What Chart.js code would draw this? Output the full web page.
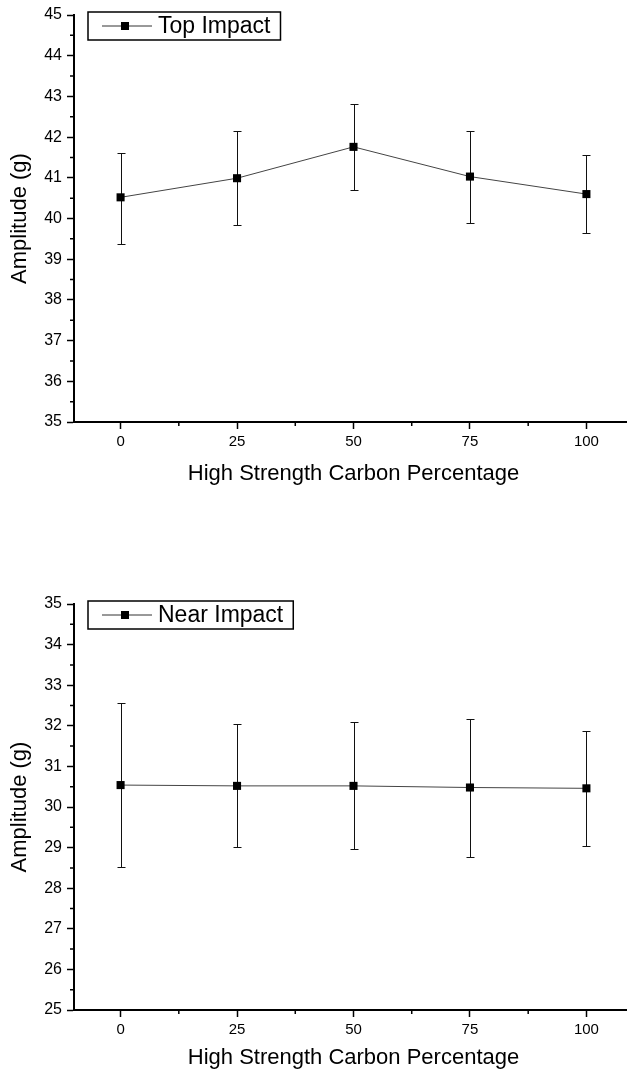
<!DOCTYPE html>
<html>
<head>
<meta charset="utf-8">
<script src="https://cdn.jsdelivr.net/npm/chart.js@4.4.0/dist/chart.umd.min.js"></script>
<style>
  html, body { margin: 0; padding: 0; background: #fff; overflow: hidden; width: 627px; height: 1074px; }
  canvas { position: absolute; left: 0; }
  #topChart { top: 0; }
  #nearChart { top: 589px; }
</style>
</head>
<body>
<canvas id="topChart" width="640" height="487"></canvas>
<canvas id="nearChart" width="640" height="482"></canvas>
<script>
// Values
const percent = [0, 25, 50, 75, 100];
const xTicks = [0, 25, 50, 75, 100];
const xMinor = [12.5, 37.5, 62.5, 87.5];

const topMean = [40.52, 40.99, 41.76, 41.03, 40.6];
const topUpper = [41.62, 42.15, 42.81, 42.16, 41.55];
const topLower = [39.37, 39.84, 40.69, 39.88, 39.65];

const nearMean = [30.54, 30.52, 30.52, 30.48, 30.46];
const nearUpper = [32.57, 32.04, 32.09, 32.16, 31.87];
const nearLower = [28.53, 29.02, 28.96, 28.78, 29.04];

const FONT = "'Liberation Sans', Arial, sans-serif";

// Error bars, drawn under the line and markers
function errorBars(upper, lower) {
  return {
    id: "errorBars",
    beforeDatasetsDraw(chart) {
      const ctx = chart.ctx;
      const x = chart.scales.x;
      const y = chart.scales.y;
      ctx.save();
      ctx.strokeStyle = "#111";
      ctx.lineWidth = 1;
      upper.forEach((hi, i) => {
        const px = Math.round(x.getPixelForValue(percent[i])) + 0.5;
        const top = Math.round(y.getPixelForValue(hi)) + 0.5;
        const bottom = Math.round(y.getPixelForValue(lower[i])) + 0.5;
        ctx.beginPath();
        ctx.moveTo(px, top);
        ctx.lineTo(px, bottom);
        ctx.moveTo(px - 4, top);
        ctx.lineTo(px + 4, top);
        ctx.moveTo(px - 4, bottom);
        ctx.lineTo(px + 4, bottom);
        ctx.stroke();
      });
      ctx.restore();
    },
  };
}

// Minor ticks between the labelled ones
const minorTicks = {
  id: "minorTicks",
  afterDraw(chart) {
    const { ctx, chartArea } = chart;
    const x = chart.scales.x;
    const y = chart.scales.y;
    ctx.save();
    ctx.strokeStyle = "#000";
    ctx.lineWidth = 1.5;
    ctx.beginPath();
    xMinor.forEach((v) => {
      const px = x.getPixelForValue(v);
      ctx.moveTo(px, chartArea.bottom);
      ctx.lineTo(px, chartArea.bottom + 4);
    });
    for (let v = y.min + 0.5; v < y.max; v += 1) {
      const py = y.getPixelForValue(v);
      ctx.moveTo(chartArea.left, py);
      ctx.lineTo(chartArea.left - 4, py);
    }
    ctx.stroke();
    ctx.restore();
  },
};

// Framed legend inside the plot, top left
const legendBox = {
  id: "legendBox",
  afterDraw(chart) {
    const { ctx, chartArea } = chart;
    const label = chart.data.datasets[0].label;
    const left = chartArea.left + 14;
    const top = chartArea.top - 3;
    const h = 28;
    const midY = top + h / 2;
    ctx.save();
    ctx.font = "23px " + FONT;
    const textX = left + 70;
    const w = textX - left + ctx.measureText(label).width + 10;
    ctx.strokeStyle = "#000";
    ctx.lineWidth = 1.5;
    ctx.strokeRect(left, top, w, h);
    ctx.lineWidth = 1;
    ctx.strokeStyle = "#333";
    ctx.beginPath();
    ctx.moveTo(left + 14, midY);
    ctx.lineTo(left + 64, midY);
    ctx.stroke();
    ctx.fillStyle = "#000";
    ctx.fillRect(left + 33, midY - 4, 8, 8);
    ctx.textBaseline = "middle";
    ctx.fillText(label, textX, midY + 1);
    ctx.restore();
  },
};

function makeChart(id, label, mean, upper, lower, yMin, yMax, xAxisHeight) {
  const ctx = document.getElementById(id).getContext("2d");
  return new Chart(ctx, {
    type: "line",
    data: {
      datasets: [
        {
          label: label,
          data: percent.map((p, i) => ({ x: p, y: mean[i] })),
          borderColor: "#444",
          borderWidth: 1,
          pointStyle: "rect",
          pointRadius: 5.7,
          pointBackgroundColor: "#000",
          pointBorderColor: "#000",
          pointBorderWidth: 0,
          tension: 0,
        },
      ],
    },
    options: {
      responsive: false,
      animation: false,
      layout: { padding: { top: 15, right: 7, left: 0, bottom: 0 } },
      plugins: {
        legend: { display: false },
        tooltip: { enabled: false },
      },
      scales: {
        x: {
          type: "linear",
          min: -10,
          max: 110,
          afterBuildTicks: (axis) => {
            axis.ticks = xTicks.map((v) => ({ value: v }));
          },
          afterFit: (axis) => {
            axis.height = xAxisHeight;
          },
          grid: { display: true, drawOnChartArea: false, drawTicks: true, tickLength: 7, tickWidth: 1.5, tickColor: "#000" },
          border: { display: true, color: "#000", width: 2 },
          ticks: { color: "#000", font: { family: FONT, size: 15 }, padding: 4, maxRotation: 0 },
          title: {
            display: true,
            text: "High Strength Carbon Percentage",
            color: "#000",
            font: { family: FONT, size: 22 },
            padding: 0,
          },
        },
        y: {
          min: yMin,
          max: yMax,
          afterFit: (axis) => {
            axis.width = 74;
          },
          grid: { display: true, drawOnChartArea: false, drawTicks: true, tickLength: 7, tickWidth: 1.5, tickColor: "#000" },
          border: { display: true, color: "#000", width: 2 },
          ticks: { stepSize: 1, color: "#000", font: { family: FONT, size: 16 }, padding: 5 },
          title: {
            display: true,
            text: "Amplitude (g)",
            color: "#000",
            font: { family: FONT, size: 22 },
            padding: { top: 7, bottom: 0 },
          },
        },
      },
    },
    plugins: [errorBars(upper, lower), minorTicks, legendBox],
  });
}

makeChart("topChart", "Top Impact", topMean, topUpper, topLower, 35, 45, 65);
makeChart("nearChart", "Near Impact", nearMean, nearUpper, nearLower, 25, 35, 61);
</script>
</body>
</html>
